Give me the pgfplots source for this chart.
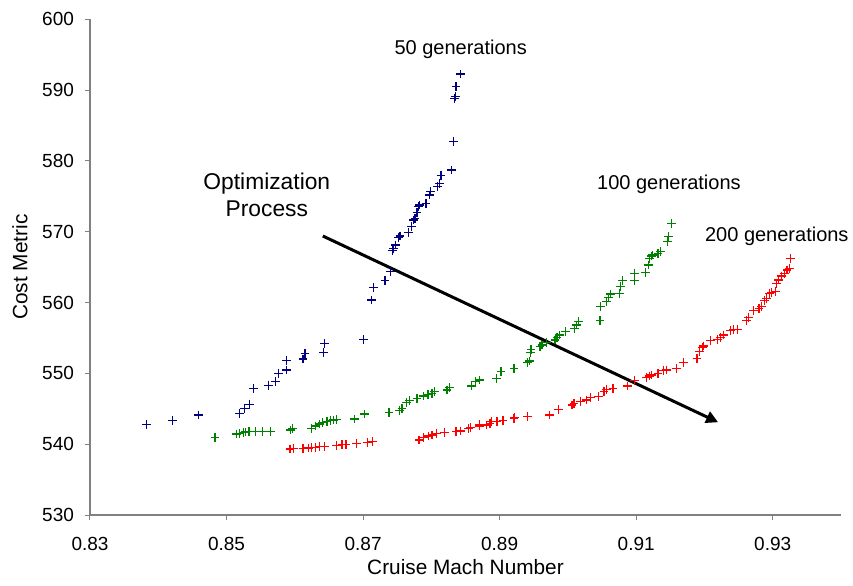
\documentclass[border=0pt]{standalone}
\usepackage{pgfplots}
\pgfplotsset{compat=1.18}
\usepackage{fontspec}
\setmainfont{Liberation Sans}
\usetikzlibrary{arrows.meta}
\definecolor{gen50}{RGB}{0,0,128}
\definecolor{gen100}{RGB}{0,128,0}
\definecolor{gen200}{RGB}{255,0,0}
\definecolor{axgray}{RGB}{128,128,128}
\begin{document}
\begin{tikzpicture}
\useasboundingbox (-45pt,-35pt) rectangle (381.5pt,257.5pt);
\begin{axis}[
  scale only axis, width=375.5pt, height=247.85pt,
  at={(0,0)}, anchor=south west,
  xmin=0.83, xmax=0.94, ymin=530, ymax=600,
  axis x line=bottom, axis y line=left,
  axis line style={-, draw=axgray, line width=0.8pt},
  xtick={0.83,0.85,0.87,0.89,0.91,0.93},
  ytick={530,540,...,600},
  xticklabels={0.83,0.85,0.87,0.89,0.91,0.93},
  tick align=outside, major tick length=2.5pt,
  tick style={axgray, line width=0.5pt},
  /pgf/number format/assume math mode=true,
  ticklabel style={font=\fontsize{9.5}{11}\selectfont},
  xticklabel style={yshift=-5pt},
  yticklabel style={xshift=-2pt},
  xlabel={Cruise Mach Number}, ylabel={Cost Metric},
  label style={font=\fontsize{10.4}{12}\selectfont},
  xlabel style={at={(axis description cs:0.5,-0.1049)}, anchor=center},
  ylabel style={at={(axis description cs:-0.0932,0.5)}, anchor=center},
  every axis plot/.append style={only marks, mark=+, mark size=2.2pt, line width=0.6pt},
  clip=false,
]
\addplot[gen50] coordinates {
(0.8383,542.8) (0.8421,543.37) (0.8459,544.12) (0.8519,544.36) (0.8526,545.07)
(0.8534,545.63) (0.8540,547.89) (0.8562,548.32) (0.8572,548.83) (0.8576,550.01)
(0.8588,550.48) (0.8588,551.79) (0.8612,552.03) (0.8615,552.84) (0.8642,552.98)
(0.8644,554.25) (0.8701,554.81) (0.8712,560.36) (0.8715,562.16) (0.8732,563.09)
(0.8740,564.36) (0.8743,567.33) (0.8745,567.66) (0.8748,568.13) (0.8752,569.22)
(0.8754,569.40) (0.8766,569.87) (0.8771,570.71) (0.8774,571.66) (0.8776,571.90)
(0.8779,572.75) (0.8781,573.54) (0.8783,573.78) (0.8792,574.02) (0.8797,575.19)
(0.8799,575.66) (0.8809,576.37) (0.8812,576.84) (0.8814,577.92) (0.8829,578.72)
(0.8833,582.72) (0.8834,588.85) (0.8835,589.08) (0.8836,590.49) (0.8843,592.28)
};
\addplot[gen100] coordinates {
(0.8483,540.97) (0.8514,541.44) (0.8519,541.54) (0.8525,541.62) (0.8528,541.72)
(0.8533,541.76) (0.8542,541.76) (0.8553,541.76) (0.8564,541.76) (0.8594,542.0)
(0.8597,542.19) (0.8624,542.24) (0.8630,542.57) (0.8636,542.85) (0.8641,543.03)
(0.8647,543.18) (0.8652,543.32) (0.8657,543.42) (0.8661,543.46) (0.8688,543.56)
(0.8702,544.26) (0.8738,544.45) (0.8753,544.73) (0.8757,545.0) (0.8764,545.86)
(0.8768,546.14) (0.8779,546.42) (0.8788,546.81) (0.8795,547.0) (0.8801,547.19)
(0.8805,547.41) (0.8823,547.65) (0.8827,548.03) (0.8859,548.22) (0.8865,548.83)
(0.8870,549.07) (0.8895,549.31) (0.8902,550.24) (0.8921,550.71) (0.8941,551.51)
(0.8944,551.75) (0.8945,552.93) (0.8946,553.40) (0.8959,553.77) (0.8962,554.01)
(0.8969,554.33) (0.8981,554.71) (0.8984,555.10) (0.8988,555.42) (0.8997,555.89)
(0.9010,556.37) (0.9013,556.83) (0.9015,557.30) (0.9047,557.44) (0.9048,559.42)
(0.9057,560.12) (0.9059,560.74) (0.9062,561.21) (0.9075,561.31) (0.9077,562.24)
(0.9080,563.09) (0.9097,563.09) (0.9098,564.13) (0.9114,564.22) (0.9118,565.31)
(0.9119,566.25) (0.9122,566.58) (0.9124,566.72) (0.9132,566.96) (0.9136,567.18)
(0.9146,568.6) (0.9147,569.30) (0.9152,571.19)
};
\addplot[gen200] coordinates {
(0.8593,539.32) (0.8598,539.42) (0.8612,539.42) (0.8620,539.46) (0.8625,539.5)
(0.8630,539.56) (0.8636,539.65) (0.8643,539.7) (0.8661,539.84) (0.8669,539.98)
(0.8675,539.98) (0.8690,540.13) (0.8706,540.21) (0.8714,540.35) (0.8782,540.59)
(0.8789,540.97) (0.8796,541.16) (0.8801,541.3) (0.8808,541.54) (0.8819,541.62)
(0.8836,541.76) (0.8843,541.86) (0.8854,542.24) (0.8857,542.38) (0.8870,542.57)
(0.8871,542.81) (0.8881,542.71) (0.8886,542.95) (0.8888,543.18) (0.8896,543.18)
(0.8905,543.32) (0.8921,543.66) (0.8922,543.80) (0.8941,543.88) (0.8973,544.12)
(0.8986,544.93) (0.9006,545.53) (0.9009,545.77) (0.9018,546.0) (0.9027,546.24)
(0.9033,546.62) (0.9045,546.71) (0.9053,547.41) (0.9057,547.75) (0.9066,547.89)
(0.9087,548.22) (0.9098,548.97) (0.9115,549.39) (0.9119,549.63) (0.9123,549.77)
(0.9132,550.01) (0.9140,550.38) (0.9144,550.48) (0.9159,550.72) (0.9169,551.51)
(0.9189,552.13) (0.9193,553.06) (0.9197,553.68) (0.9199,553.87) (0.9209,554.62)
(0.9219,554.81) (0.9223,555.10) (0.9228,555.42) (0.9238,556.03) (0.9243,556.22)
(0.9248,556.22) (0.9262,557.44) (0.9264,557.92) (0.9272,558.85) (0.9280,559.19)
(0.9284,559.42) (0.9288,560.26) (0.9291,560.60) (0.9295,561.31) (0.9298,561.45)
(0.9304,561.54) (0.9306,562.72) (0.9308,563.19) (0.9313,563.75) (0.9317,564.13)
(0.9321,564.60) (0.9324,564.84) (0.9326,566.25)
};
\draw[line width=1.5pt, -{Triangle[length=6pt,width=6pt]}] (axis cs:0.8641,569.4) -- (axis cs:0.9220,543.1);
\node[font=\fontsize{10}{12}\selectfont] at (axis cs:0.8843,595.7) {50 generations};
\node[font=\fontsize{10}{12}\selectfont] at (axis cs:0.9148,576.7) {100 generations};
\node[font=\fontsize{10}{12}\selectfont] at (axis cs:0.9306,569.3) {200 generations};
\node[font=\fontsize{11.4}{13.5}\selectfont, align=center] at (axis cs:0.8559,575.2) {Optimization\\Process};
\end{axis}
\end{tikzpicture}
\end{document}
